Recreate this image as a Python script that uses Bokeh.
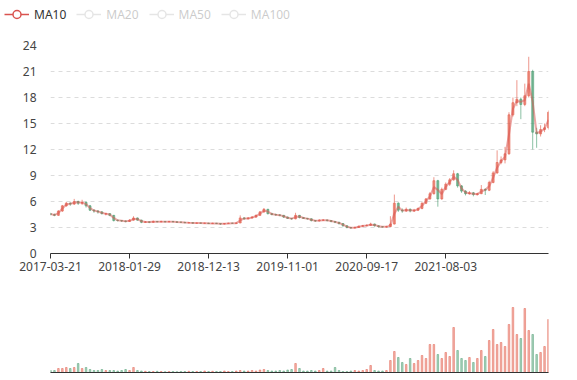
import math
import pandas as pd
from bokeh.plotting import figure
from bokeh.models import ColumnDataSource, Range1d, FixedTicker, Legend, LegendItem
from bokeh.layouts import column, row
from bokeh.embed import file_html
from bokeh.resources import INLINE

# ---------------- data (one candle per 10 trading days) ----------------
tick_days = [0, 200, 400, 600, 800, 1000]
tick_labels = ["2017-03-21", "2018-01-29", "2018-12-13", "2019-11-01", "2020-09-17", "2021-08-03"]
day_index = list(range(0, 1261, 10))  # trading-day index of each candle
legend_names = ["MA10", "MA20", "MA50", "MA100"]

opens = [4.6, 4.5, 4.4, 4.9, 5.5, 5.8, 5.7, 6.0, 5.8, 5.9,
         5.5, 5.0, 4.9, 4.8, 4.55, 4.6, 4.4, 3.85, 3.8, 3.75,
         3.7, 3.85, 4.1, 3.85, 3.6, 3.65, 3.6, 3.7, 3.65, 3.7,
         3.65, 3.7, 3.65, 3.62, 3.6, 3.53, 3.56, 3.5, 3.52, 3.49,
         3.51, 3.45, 3.5, 3.45, 3.4, 3.45, 3.5, 3.48, 3.52, 4.1,
         4.0, 4.1, 4.2, 4.4, 4.8, 5.1, 4.6, 4.5, 4.45, 4.4,
         4.2, 4.05, 4.0, 4.4, 4.15, 4.05, 4.0, 3.8, 3.75, 3.83,
         3.87, 3.8, 3.7, 3.6, 3.45, 3.2, 3.0, 2.95, 3.0, 3.15,
         3.2, 3.25, 3.4, 3.2, 3.1, 3.05, 3.1, 3.4, 5.8, 5.0,
         4.9, 5.1, 4.9, 5.0, 5.2, 5.8, 6.3, 6.9, 8.4, 6.3,
         7.4, 8.0, 8.5, 9.2, 7.8, 7.2, 6.9, 7.0, 6.8, 6.9,
         7.4, 7.3, 8.2, 9.3, 10.5, 10.8, 11.5, 16.0, 17.4, 17.8,
         17.2, 18.2, 21.0, 14.0, 13.8, 14.3, 14.5]
closes = [4.5, 4.4, 4.9, 5.5, 5.8, 5.7, 6.0, 5.8, 5.9, 5.5,
          5.0, 4.9, 4.8, 4.6, 4.6, 4.4, 3.8, 3.8, 3.75, 3.7,
          3.85, 4.1, 3.85, 3.6, 3.65, 3.6, 3.7, 3.65, 3.7, 3.65,
          3.7, 3.65, 3.6, 3.6, 3.55, 3.56, 3.5, 3.52, 3.5, 3.51,
          3.45, 3.5, 3.45, 3.4, 3.45, 3.5, 3.48, 3.52, 4.1, 4.0,
          4.1, 4.2, 4.4, 4.8, 5.1, 4.6, 4.5, 4.45, 4.4, 4.2,
          4.05, 4.0, 4.4, 4.15, 4.05, 4.0, 3.8, 3.75, 3.85, 3.87,
          3.8, 3.7, 3.6, 3.45, 3.2, 3.0, 2.95, 3.0, 3.15, 3.2,
          3.25, 3.4, 3.2, 3.1, 3.05, 3.1, 3.4, 5.8, 5.0, 4.9,
          5.1, 4.9, 5.0, 5.2, 5.8, 6.3, 6.9, 8.4, 6.3, 7.4,
          8.0, 8.5, 9.2, 7.8, 7.2, 6.9, 7.0, 6.8, 6.9, 7.4,
          7.3, 8.2, 9.3, 10.5, 10.8, 11.5, 16.0, 17.4, 17.8, 17.2,
          18.2, 21.0, 14.0, 13.8, 14.3, 14.5, 16.3]
lows = [4.4, 4.3, 4.35, 4.8, 5.4, 5.5, 5.6, 5.6, 5.6, 5.3,
        4.9, 4.7, 4.6, 4.5, 4.4, 4.3, 3.7, 3.7, 3.65, 3.6,
        3.65, 3.8, 3.8, 3.5, 3.55, 3.5, 3.55, 3.6, 3.6, 3.58,
        3.6, 3.6, 3.55, 3.55, 3.5, 3.5, 3.45, 3.46, 3.45, 3.45,
        3.4, 3.42, 3.4, 3.3, 3.36, 3.42, 3.44, 3.45, 3.5, 3.9,
        3.95, 4.05, 4.15, 4.35, 4.7, 4.5, 4.4, 4.35, 4.3, 4.1,
        4.0, 3.9, 3.95, 4.05, 4.0, 3.9, 3.7, 3.65, 3.7, 3.75,
        3.7, 3.6, 3.5, 3.35, 3.1, 2.9, 2.85, 2.9, 2.95, 3.1,
        3.15, 3.2, 3.1, 3.0, 3.0, 3.0, 3.05, 3.35, 4.8, 4.7,
        4.8, 4.75, 4.8, 4.9, 5.1, 5.7, 6.2, 6.8, 5.4, 6.2,
        7.3, 7.8, 8.4, 7.6, 7.0, 6.7, 6.8, 6.6, 6.7, 6.85,
        6.75, 7.2, 8.1, 9.2, 10.3, 10.4, 11.4, 15.8, 17.0, 15.5,
        17.0, 18.0, 12.0, 12.2, 13.5, 14.0, 14.3]
highs = [4.7, 4.6, 5.0, 5.6, 5.95, 5.9, 6.3, 6.1, 6.2, 6.0,
         5.6, 5.1, 5.0, 4.9, 4.7, 4.65, 4.45, 3.9, 3.85, 3.8,
         3.95, 4.3, 4.15, 3.9, 3.75, 3.7, 3.8, 3.75, 3.78, 3.74,
         3.76, 3.72, 3.7, 3.66, 3.62, 3.6, 3.58, 3.56, 3.55, 3.54,
         3.53, 3.54, 3.52, 3.48, 3.5, 3.55, 3.54, 3.58, 4.4, 4.2,
         4.2, 4.3, 4.5, 4.9, 5.25, 5.15, 4.7, 4.6, 4.55, 4.45,
         4.25, 4.1, 4.7, 4.45, 4.2, 4.1, 4.05, 3.85, 3.95, 3.95,
         3.9, 3.85, 3.75, 3.65, 3.5, 3.25, 3.05, 3.1, 3.2, 3.3,
         3.35, 3.55, 3.45, 3.25, 3.15, 3.2, 4.3, 6.8, 5.9, 5.2,
         5.3, 5.2, 5.15, 5.3, 5.9, 6.4, 7.1, 8.8, 8.5, 7.6,
         8.2, 8.7, 9.6, 9.3, 7.9, 7.3, 7.2, 7.1, 7.0, 7.9,
         7.5, 8.4, 9.5, 11.9, 11.2, 12.3, 16.3, 18.0, 20.0, 18.0,
         19.6, 22.7, 21.2, 14.5, 14.8, 15.0, 16.5]
volumes = [2, 2, 4, 4, 5, 4, 5, 9, 4, 5,
           3, 2, 2, 3, 2, 2, 2, 1.5, 2, 3,
           2, 5, 2, 1.5, 1.2, 1, 1, 1.2, 1, 0.8,
           1, 1, 0.8, 1, 1, 1.2, 1, 1, 1, 1.5,
           1, 1.2, 1, 1, 1.5, 1, 1, 1.5, 2, 1.5,
           1.5, 2, 1.5, 2.5, 3, 2, 1.5, 1.5, 2, 1.5,
           2.5, 3, 9, 4, 1.5, 1.5, 2, 1.5, 2, 4,
           1.5, 1.5, 5, 2, 1, 1, 1.5, 2, 1.5, 2,
           3, 7, 2, 1.5, 1.5, 2, 12, 21, 15, 10,
           8, 14, 9, 12, 17, 14, 28, 28, 18, 14,
           20, 16, 45, 22, 14, 12, 15, 10, 14, 22,
           16, 32, 43, 28, 30, 26, 48, 65, 38, 34,
           64, 42, 38, 18, 20, 26, 53]

UP = "#e4604e"
DOWN = "#4d9f73"
MA_RED = "#d9534f"
FONT = "Noto Sans"

df = pd.DataFrame({"day": day_index, "open": opens, "close": closes,
                   "low": lows, "high": highs, "vol": volumes})
df["top"] = df[["open", "close"]].max(axis=1)
df["bottom"] = df[["open", "close"]].min(axis=1)
df["color"] = [UP if c >= o else DOWN for o, c in zip(df["open"], df["close"])]
# 10-day average ~ midpoint of each 10-day candle
df["ma10"] = (df["open"] + df["close"]) / 2
src = ColumnDataSource(df)

W = 570
xr = Range1d(0, 1260)

# ---------------- legend strip ----------------
p0 = figure(width=W, height=36, x_range=Range1d(0, 1), y_range=Range1d(0, 1),
            output_backend="svg", toolbar_location=None,
            x_axis_location=None, y_axis_location=None,
            min_border_left=0, min_border_right=0, min_border_top=0, min_border_bottom=0)
p0.grid.visible = False
p0.outline_line_color = None
nan_src = ColumnDataSource(dict(x=[math.nan], y=[math.nan]))
items = []
for k, name in enumerate(legend_names):
    active = (k == 0)
    c = MA_RED if active else "#999999"
    r = p0.line("x", "y", source=nan_src, line_color=c, line_width=1.5, visible=active)
    m = p0.scatter("x", "y", source=nan_src, marker="circle", size=8,
                   line_color=c, fill_color="white", line_width=1.5, visible=active)
    items.append(LegendItem(label=name, renderers=[r, m]))
legend = Legend(items=items, orientation="horizontal", location="top_left",
                click_policy="hide", glyph_width=25, glyph_height=20,
                label_standoff=5, spacing=10, padding=0, margin=4,
                border_line_color=None, background_fill_alpha=0,
                label_text_font=FONT, label_text_font_size="12px",
                label_text_color="#333333",
                inactive_fill_color="white", inactive_fill_alpha=0.75)
p0.add_layout(legend)

# ---------------- price panel ----------------
p = figure(width=W, height=244, x_range=xr, y_range=Range1d(0, 24),
           output_backend="svg", toolbar_location=None,
           min_border_left=50, min_border_right=22, min_border_top=9, min_border_bottom=27)
p.outline_line_color = None
p.xgrid.visible = False
p.ygrid.ticker = FixedTicker(ticks=list(range(3, 25, 3)))
p.ygrid.grid_line_color = "#dcdcdc"
p.ygrid.grid_line_dash = "4 4"

p.xaxis.ticker = FixedTicker(ticks=tick_days)
p.xaxis.major_label_overrides = {d: l for d, l in zip(tick_days, tick_labels)}
p.xaxis.axis_line_color = "#333333"
p.xaxis.major_tick_line_color = "#333333"
p.xaxis.major_tick_out = 5
p.xaxis.major_tick_in = 0
p.xaxis.minor_tick_line_color = None
p.xaxis.major_label_standoff = 3
p.xaxis.major_label_text_font = FONT
p.xaxis.major_label_text_font_size = "12px"
p.xaxis.major_label_text_color = "#444444"

p.yaxis.ticker = FixedTicker(ticks=list(range(0, 25, 3)))
p.yaxis.axis_line_color = None
p.yaxis.major_tick_line_color = None
p.yaxis.minor_tick_line_color = None
p.yaxis.major_label_standoff = 8
p.yaxis.major_label_text_font = FONT
p.yaxis.major_label_text_font_size = "12px"
p.yaxis.major_label_text_color = "#444444"

p.segment(x0="day", y0="low", x1="day", y1="high", line_color="color",
          line_alpha=0.65, line_width=1, source=src)
p.vbar(x="day", width=5, top="top", bottom="bottom", fill_color="color",
       line_color="color", fill_alpha=0.55, line_alpha=0.6, source=src)
p.line("day", "ma10", source=src, line_color=MA_RED, line_alpha=0.5, line_width=2)

# ---------------- volume panel ----------------
p2 = figure(width=W, height=94, x_range=xr, y_range=Range1d(0, 72),
            output_backend="svg", toolbar_location=None,
            min_border_left=50, min_border_right=22, min_border_top=20, min_border_bottom=2)
p2.outline_line_color = None
p2.grid.visible = False
p2.yaxis.visible = False
p2.vbar(x="day", width=4, top="vol", bottom=0, fill_color="color", line_color="color",
        fill_alpha=0.45, line_alpha=0.5, source=src)
p2.xaxis.ticker = FixedTicker(ticks=[])
p2.xaxis.major_label_text_font_size = "0px"
p2.xaxis.major_tick_out = 0
p2.xaxis.major_tick_in = 0
p2.xaxis.major_label_standoff = 0
p2.xaxis.minor_tick_line_color = None
p2.xaxis.axis_line_color = "#333333"

layout = column(row(p0), p, p2, spacing=0)
open("out.html", "w").write(file_html(layout, INLINE))
